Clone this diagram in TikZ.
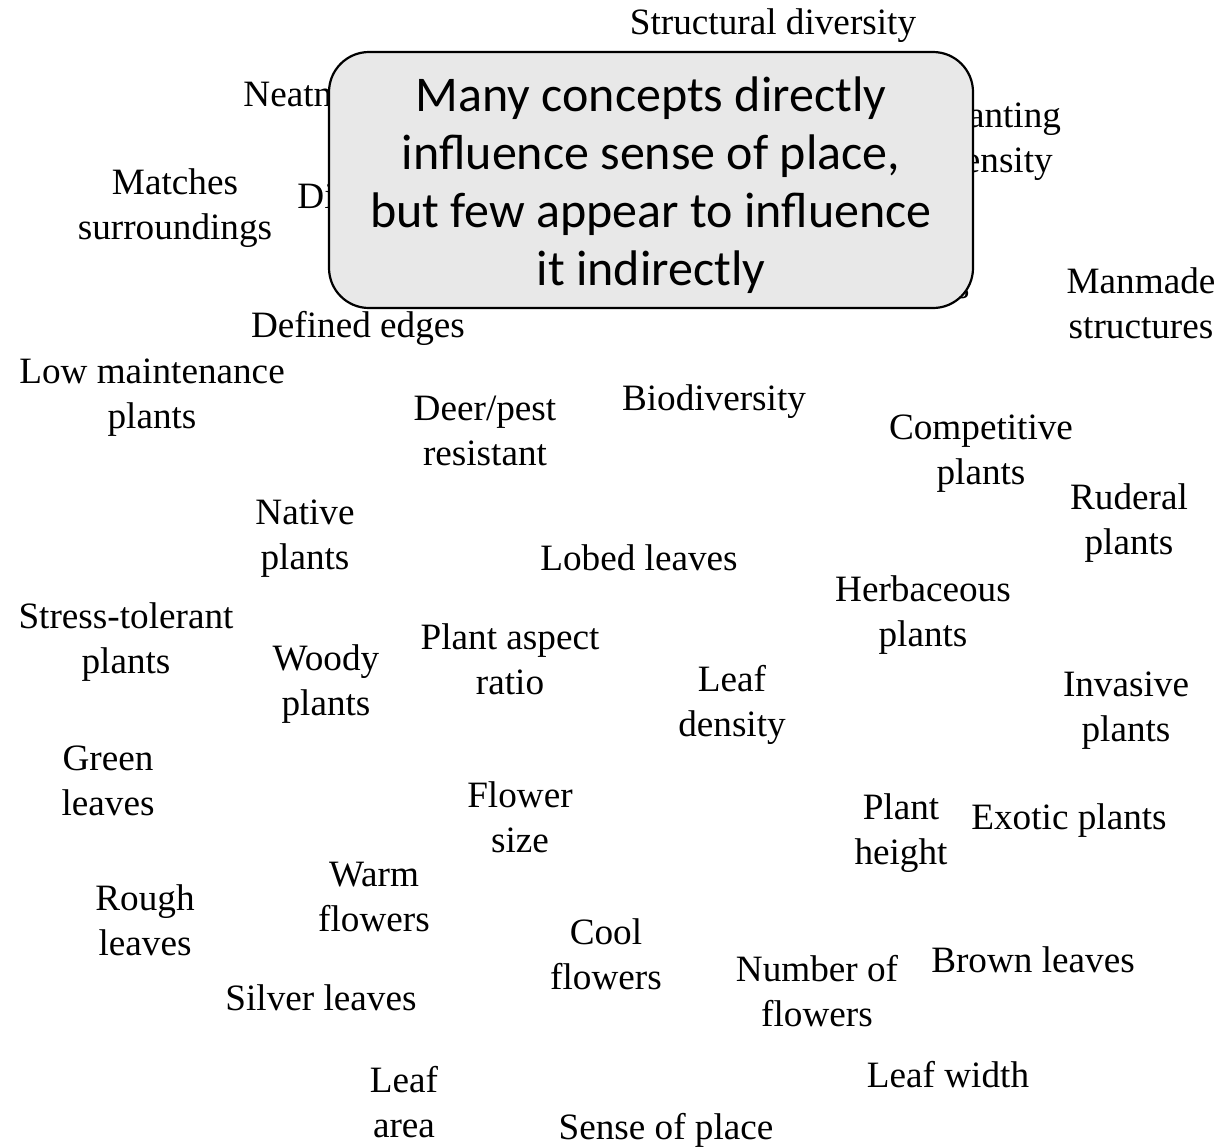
\documentclass[tikz,border=0pt]{standalone}
\usepackage{fontspec}
\setmainfont{Liberation Serif}
\newfontfamily\calloutfont{Carlito}
\begin{document}
\begin{tikzpicture}[x=0.5pt,y=-0.5pt,
  lbl/.style={align=center,inner sep=0pt,font=\fontsize{18.6}{22.5}\selectfont},
  callout/.style={draw=black,line width=1.1pt,fill=gray!18,rounded corners=20pt,
    minimum width=322pt,minimum height=128pt,inner sep=0pt},
  callouttext/.style={align=center,inner sep=0pt,
    font=\calloutfont\fontsize{25}{29}\selectfont}]
\useasboundingbox (0,0) rectangle (1229,1147);
\begin{scope}[shift={(0,4)}]
% labels partly hidden behind the callout
\node[lbl,anchor=west] (neat) at (243,90) {Neatness};
\node[lbl,anchor=west] (dist) at (297,192) {Distinctiveness};
\node[lbl] (plant) at (999,137) {Planting\\density};
\node[lbl,anchor=base east] (paths) at (970,294) {Paths};
% visible labels
\node[lbl] (struct) at (773,22) {Structural diversity};
\node[lbl] (match) at (175,204) {Matches\\surroundings};
\node[lbl] (manmade) at (1141,299) {Manmade\\structures};
\node[lbl] (edges) at (358,324) {Defined edges};
\node[lbl] (lowm) at (152,394) {Low maintenance\\plants};
\node[lbl] (deer) at (485,427) {Deer/pest\\resistant};
\node[lbl] (bio) at (714,398) {Biodiversity};
\node[lbl] (comp) at (981,450) {Competitive\\plants};
\node[lbl] (rud) at (1129,519) {Ruderal\\plants};
\node[lbl] (native) at (305,535) {Native\\plants};
\node[lbl] (lobed) at (639,554) {Lobed leaves};
\node[lbl] (herb) at (923,611) {Herbaceous\\plants};
\node[lbl] (stress) at (126,638) {Stress-tolerant\\plants};
\node[lbl] (woody) at (326,680) {Woody\\plants};
\node[lbl] (aspect) at (510,655) {Plant aspect\\ratio};
\node[lbl] (ldens) at (732,701) {Leaf\\density};
\node[lbl] (inv) at (1126,707) {Invasive\\plants};
\node[lbl] (green) at (108,777) {Green\\leaves};
\node[lbl] (fsize) at (520,813) {Flower\\size};
\node[lbl] (height) at (901,829) {Plant\\height};
\node[lbl] (exotic) at (1069,817) {Exotic plants};
\node[lbl] (warm) at (374,893) {Warm\\flowers};
\node[lbl] (rough) at (145,916) {Rough\\leaves};
\node[lbl] (cool) at (606,950) {Cool\\flowers};
\node[lbl] (nflow) at (817,987) {Number of\\flowers};
\node[lbl] (brown) at (1033,956) {Brown leaves};
\node[lbl] (silver) at (321,994) {Silver leaves};
\node[lbl] (lwidth) at (948,1071) {Leaf width};
\node[lbl] (larea) at (404,1098) {Leaf\\area};
\node[lbl] (sop) at (666,1126) {Sense of place};
\end{scope}
% callout box
\node[callout] (box) at (651,180) {};
\node[callouttext] (boxtext) at (651,185) {Many concepts directly\\influence sense of place,\\but few appear to influence\\it indirectly};
\end{tikzpicture}
\end{document}
